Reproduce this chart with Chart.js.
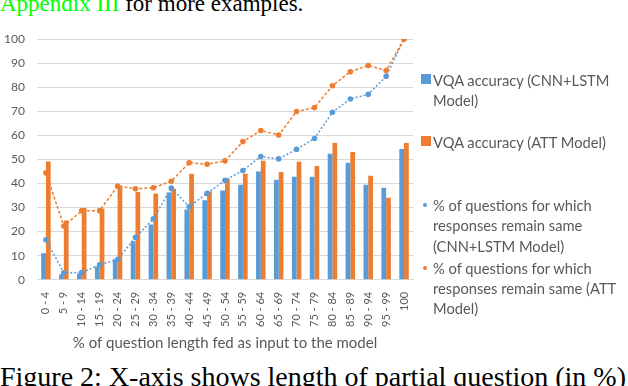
<!DOCTYPE html>
<html>
<head>
<meta charset="utf-8">
<script src="https://cdn.jsdelivr.net/npm/chart.js@4"></script>
<style>
  html, body { margin: 0; padding: 0; background: #fff; }
  body { width: 628px; height: 386px; position: relative; overflow: hidden; }
  #wrap { position: absolute; left: 0; top: 0; width: 628px; height: 360px; }
  .serif { position: absolute; left: 0; font-family: "Liberation Serif", serif; white-space: nowrap; color: #000; }
  #topline { top: -8px; font-size: 23px; line-height: 23px; }
  #topline span { color: #00ff00; }
  #caption { top: 363px; font-size: 28px; line-height: 28px; }
  .leg { position: absolute; left: 433px; font-family: Lato, sans-serif; font-size: 14.7px; line-height: 20.3px; color: #595959; white-space: nowrap; }
  .sw { position: absolute; }
</style>
</head>
<body>
<div id="topline" class="serif"><span>Appendix III</span> for more examples.</div>
<div id="wrap"><canvas id="graph"></canvas></div>
<div id="legend"></div>
<div id="caption" class="serif">Figure 2: X-axis shows length of partial question (in %)</div>
<script>
// categorias do eixo x
const categorias = ["0 - 4", "5 - 9", "10 - 14", "15 - 19", "20 - 24", "25 - 29", "30 - 34", "35 - 39",
  "40 - 44", "45 - 49", "50 - 54", "55 - 59", "60 - 64", "65 - 69", "70 - 74", "75 - 79",
  "80 - 84", "85 - 89", "90 - 94", "95 - 99", "100"];

// barras
const accCnn = [11.0, 2.3, 2.6, 5.5, 8.5, 16.0, 23.0, 36.2, 29.2, 33.0, 37.1, 39.5, 45.0, 41.5, 42.8, 42.8, 52.3, 48.6, 39.5, 38.2, 54.3];
const accAtt = [49.1, 24.6, 29.8, 29.6, 39.2, 36.5, 35.8, 37.8, 44.0, 36.7, 42.0, 44.0, 49.4, 44.8, 49.0, 47.3, 56.8, 53.1, 43.2, 34.1, 56.8];

// linhas (% de respostas iguais)
const mesmoCnn = [16.6, 2.9, 3.0, 6.2, 8.4, 17.6, 25.3, 38.1, 30.3, 35.9, 41.3, 45.4, 51.2, 50.2, 54.2, 58.7, 69.6, 75.1, 77.0, 84.5, 100];
const mesmoAtt = [44.4, 22.3, 28.7, 28.7, 38.9, 37.8, 38.2, 40.9, 48.6, 48.0, 49.4, 57.4, 62.0, 60.1, 69.9, 71.5, 80.6, 86.4, 89.0, 86.9, 100];

const ticksY = [0, 10, 20, 30, 40, 50, 60, 70, 80, 90, 100];

const azul = "#5b9bd5";
const laranja = "#ed7d31";
const cinza = "#595959";

const labels = [
  ["VQA accuracy (CNN+LSTM", "Model)"],
  ["VQA accuracy (ATT Model)"],
  ["% of questions for which", "responses remain same", "(CNN+LSTM Model)"],
  ["% of questions for which", "responses remain same (ATT", "Model)"]
];

const ctx = document.getElementById("graph").getContext("2d");
const grafico = new Chart(ctx, {
  type: "bar",
  data: {
    labels: categorias,
    datasets: [
      { label: labels[0].join(" "), data: accCnn, backgroundColor: azul, order: 2 },
      { label: labels[1].join(" "), data: accAtt, backgroundColor: laranja, order: 2 },
      {
        type: "line", label: labels[2].join(" "), data: mesmoCnn, order: 1,
        borderColor: azul, backgroundColor: azul, borderWidth: 1.5, borderDash: [2, 2],
        pointRadius: 2.8, pointBorderWidth: 0, tension: 0, fill: false
      },
      {
        type: "line", label: labels[3].join(" "), data: mesmoAtt, order: 0,
        borderColor: laranja, backgroundColor: laranja, borderWidth: 1.5, borderDash: [3, 2],
        pointRadius: 2.8, pointBorderWidth: 0, tension: 0, fill: false
      }
    ]
  },
  options: {
    responsive: true,
    maintainAspectRatio: false,
    animation: false,
    datasets: { bar: { barPercentage: 1, categoryPercentage: 0.53 } },
    layout: { padding: { left: 2, right: 215, top: 39, bottom: 8 } },
    plugins: { legend: { display: false }, tooltip: { enabled: false } },
    scales: {
      x: {
        grid: { display: false },
        border: { display: true, color: "#d9d9d9" },
        ticks: { color: cinza, autoSkip: false, minRotation: 90, maxRotation: 90, padding: 4,
          font: { family: "Lato", size: 11 } },
        title: { display: true, text: "% of question length fed as input to the model", color: cinza,
          font: { family: "Lato", size: 15 }, padding: { top: 3, bottom: 0 } }
      },
      y: {
        min: 0, max: 100,
        afterBuildTicks: (s) => { s.ticks = ticksY.map(v => ({ value: v })); },
        afterFit: (s) => { s.width = 35; },
        grid: { color: "#d9d9d9", drawTicks: false },
        border: { display: false },
        ticks: { color: cinza, padding: 12, font: { family: "Lato", size: 12 } }
      }
    }
  }
});

// legenda em html, com as cores dos datasets
const tops = [70, 131.5, 195, 257.5];
const legenda = document.getElementById("legend");
grafico.data.datasets.forEach((ds, i) => {
  const d = document.createElement("div");
  d.className = "leg";
  d.style.top = tops[i] + "px";
  d.innerHTML = labels[i].join("<br>");
  legenda.appendChild(d);
  const sw = document.createElement("div");
  sw.className = "sw";
  sw.style.background = ds.type === "line" ? ds.borderColor : ds.backgroundColor;
  if (ds.type === "line") {
    sw.style.left = "423px"; sw.style.top = (tops[i] + 8) + "px";
    sw.style.width = "4px"; sw.style.height = "4px"; sw.style.borderRadius = "50%";
  } else {
    sw.style.left = "421px"; sw.style.top = (tops[i] + 4) + "px";
    sw.style.width = "10px"; sw.style.height = "10px";
  }
  legenda.appendChild(sw);
});
</script>
</body>
</html>
